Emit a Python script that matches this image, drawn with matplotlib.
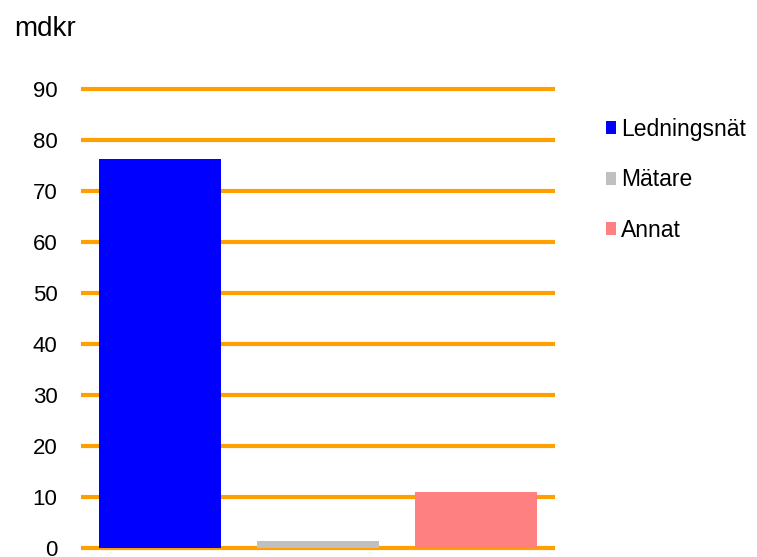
import matplotlib.pyplot as plt
import numpy as np

plt.rcParams['font.family'] = ['Liberation Sans', 'DejaVu Sans']

# values in mdkr
categories = ["Ledningsnät", "Mätare", "Annat"]
values = [76.3, 1.4, 11.0]
colors = ["#0000FF", "#C0C0C0", "#FF8080"]
yticks = np.arange(0, 91, 10)

fig = plt.figure(figsize=(7.57, 5.57), dpi=100)
ax = fig.add_axes([81 / 757, 1 - 548 / 557, (555 - 81) / 757, (548 - 89) / 557])

x = np.arange(len(categories))
for xi, v, c, lab in zip(x, values, colors, categories):
    ax.bar(xi, v, width=0.77, color=c, label=lab, zorder=3)

ax.set_ylim(0, 90)
ax.set_xlim(-0.5, 2.5)
ax.set_yticks(yticks)
ax.set_xticks([])
ax.yaxis.grid(True, color="#FFA000", linewidth=3, zorder=0)
for gl in ax.get_ygridlines():
    gl.set_clip_on(False)
    gl.set_solid_capstyle("butt")
ax.set_axisbelow(True)
ax.tick_params(axis="y", length=0, pad=17, labelsize=16)
for s in ax.spines.values():
    s.set_visible(False)

fig.text(14 / 757, 1 - 29 / 557, "mdkr", fontsize=20, va="center", ha="left")

ax.legend(loc="upper left", bbox_to_anchor=(606 / 757, 1 - 118 / 557),
          bbox_transform=fig.transFigure, frameon=False, fontsize=16.5,
          handlelength=0.45, handleheight=0.5, handletextpad=0.2,
          labelspacing=1.2, borderpad=0, borderaxespad=0)

fig.savefig("out.png", dpi=100)
